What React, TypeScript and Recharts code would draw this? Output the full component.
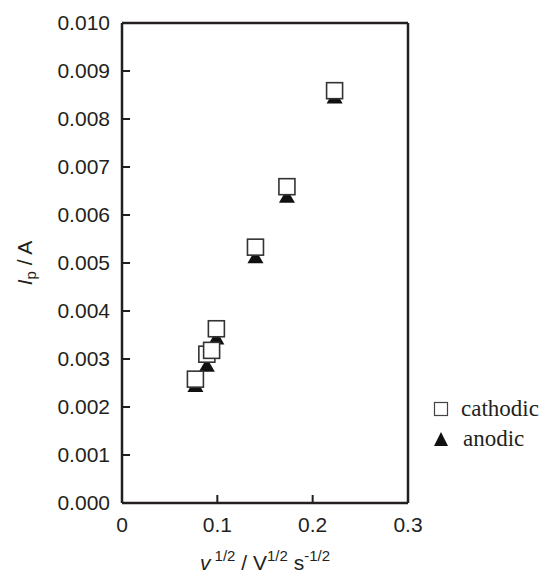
import React from 'react';
import {
  ScatterChart,
  Scatter,
  XAxis,
  YAxis,
  ReferenceLine,
} from 'recharts';

const sqrtScanRate = [0.077, 0.089, 0.094, 0.099, 0.14, 0.173, 0.223];
const cathodicPeak = [0.00258, 0.0031, 0.00318, 0.00363, 0.00533, 0.00659, 0.00859];
const anodicPeak = [0.00241, 0.00283, 0.00315, 0.0034, 0.00509, 0.00635, 0.00842];
const xTicks = [0, 0.1, 0.2, 0.3];
const yTicks = [0, 0.001, 0.002, 0.003, 0.004, 0.005, 0.006, 0.007, 0.008, 0.009, 0.01];
const seriesNames = ['cathodic', 'anodic'];

const cathodicData = sqrtScanRate.map((x, i) => ({ x, y: cathodicPeak[i] }));
const anodicData = sqrtScanRate.map((x, i) => ({ x, y: anodicPeak[i] }));

const INK = '#231f20';
const SANS = 'Liberation Sans, Arial, Helvetica, sans-serif';
const SERIF = 'Liberation Serif, Times New Roman, serif';
const FS = 21;

const SquareShape = (props: any) => {
  const { cx, cy } = props;
  const s = 16;
  return (
    <rect
      x={cx - s / 2}
      y={cy - s / 2}
      width={s}
      height={s}
      fill="#fff"
      stroke="#333"
      strokeWidth={1.6}
    />
  );
};

const TriangleShape = (props: any) => {
  const { cx, cy } = props;
  const w = 16;
  const r = w / (2 * Math.sqrt(3));
  const pts = `${cx},${cy - 2 * r} ${cx - w / 2},${cy + r} ${cx + w / 2},${cy + r}`;
  return <polygon points={pts} fill="#111" stroke="none" />;
};

const YLabel = (props: any) => {
  const vb = props.viewBox || { x: 0, y: 23, width: 122, height: 480 };
  const x = vb.x + 32;
  const y = vb.y + vb.height / 2;
  return (
    <text
      x={x}
      y={y}
      transform={`rotate(-90, ${x}, ${y})`}
      textAnchor="middle"
      fontFamily={SANS}
      fontSize={FS}
      fill={INK}
    >
      <tspan fontStyle="italic">I</tspan>
      <tspan fontSize={15} dy={4}>p</tspan>
      <tspan dy={-4}> / A</tspan>
    </text>
  );
};

const XLabel = (props: any) => {
  const vb = props.viewBox || { x: 122, y: 503, width: 286, height: 73 };
  const x = vb.x + vb.width / 2;
  const y = vb.y + 67;
  return (
    <text x={x} y={y} textAnchor="middle" fontFamily={SANS} fontSize={FS} fill={INK}>
      <tspan fontStyle="italic">v</tspan>
      <tspan fontSize={15} dy={-9}> 1/2</tspan>
      <tspan dy={9}> / V</tspan>
      <tspan fontSize={15} dy={-9}>1/2</tspan>
      <tspan dy={9}> s</tspan>
      <tspan fontSize={15} dy={-9}>-1/2</tspan>
    </text>
  );
};

const LegendBox = () => (
  <div
    style={{
      position: 'absolute',
      left: 433,
      top: 394,
      fontFamily: SERIF,
      fontSize: 23,
      color: INK,
      lineHeight: '30px',
    }}
  >
    <div style={{ display: 'flex', alignItems: 'center', height: 30 }}>
      <svg width={16} height={16} style={{ marginRight: 12 }}>
        <rect x={1.5} y={1.5} width={13} height={13} fill="#fff" stroke="#444" strokeWidth={1.2} />
      </svg>
      <span>{seriesNames[0]}</span>
    </div>
    <div style={{ display: 'flex', alignItems: 'center', height: 30 }}>
      <svg width={16} height={16} style={{ marginRight: 14 }}>
        <polygon points="8,1 1,15 15,15" fill="#111" />
      </svg>
      <span>{seriesNames[1]}</span>
    </div>
  </div>
);

export default function App() {
  return (
    <div style={{ position: 'absolute', left: 0, top: 0, width: 546, height: 576, background: '#fff' }}>
      <ScatterChart
        width={546}
        height={576}
        margin={{ top: 23, right: 138, bottom: 0, left: 0 }}
      >
        <XAxis
          type="number"
          dataKey="x"
          domain={[0, 0.3]}
          ticks={xTicks}
          allowDataOverflow
          height={73}
          tickFormatter={(v: number) => (v === 0 ? '0' : v.toFixed(1))}
          tick={{ fontFamily: SANS, fontSize: FS, fill: INK }}
          tickSize={-8}
          tickMargin={22}
          tickLine={{ stroke: INK, strokeWidth: 2 }}
          axisLine={{ stroke: INK, strokeWidth: 2.5 }}
          label={<XLabel />}
        />
        <YAxis
          type="number"
          dataKey="y"
          domain={[0, 0.01]}
          ticks={yTicks}
          allowDataOverflow
          width={122}
          tickFormatter={(v: number) => v.toFixed(3)}
          tick={{ fontFamily: SANS, fontSize: FS, fill: INK }}
          tickSize={-8}
          tickMargin={20}
          tickLine={{ stroke: INK, strokeWidth: 2 }}
          axisLine={{ stroke: INK, strokeWidth: 2.5 }}
          label={<YLabel />}
        />
        <ReferenceLine y={0.01} stroke={INK} strokeWidth={2.5} />
        <ReferenceLine x={0.3} stroke={INK} strokeWidth={2.5} />
        <Scatter
          name={seriesNames[1]}
          data={anodicData}
          shape={<TriangleShape />}
          isAnimationActive={false}
        />
        <Scatter
          name={seriesNames[0]}
          data={cathodicData}
          shape={<SquareShape />}
          isAnimationActive={false}
        />
      </ScatterChart>
      <LegendBox />
    </div>
  );
}
